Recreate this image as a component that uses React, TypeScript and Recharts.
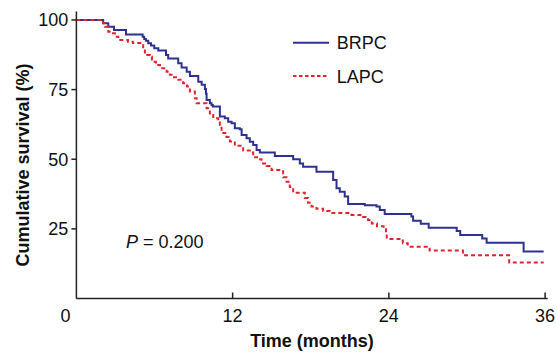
import React from "react";
import { LineChart, Line, XAxis, YAxis, Legend } from "recharts";

// BRPC Kaplan-Meier steps (months, cumulative survival %)
const brpcTime = [0, 2.06, 2.45, 2.89, 3.81, 5.09, 5.21, 5.34, 5.52, 5.73, 5.98, 6.29, 6.88, 7.05, 7.82, 8.08, 8.47, 8.72, 9.36, 9.62, 9.87, 9.95, 10.0, 10.25, 10.38, 10.48, 11.02, 11.4, 11.66, 11.92, 12.17, 12.55, 12.69, 13.07, 13.32, 13.58, 13.84, 14.09, 15.24, 16.65, 17.16, 17.41, 18.44, 19.72, 19.98, 20.23, 20.61, 20.87, 22.15, 23.05, 23.3, 23.68, 25.73, 25.86, 26.45, 27.06, 29.21, 29.48, 31.17, 31.51, 34.35, 35.89];
const brpcSurv = [100, 98.8, 97.6, 96.4, 94.8, 94.0, 93.2, 92.5, 91.6, 90.8, 89.8, 89.0, 87.4, 86.2, 84.5, 82.9, 81.4, 79.9, 77.8, 76.7, 75.2, 73.5, 71.3, 70.1, 69.5, 68.9, 65.3, 64.7, 63.5, 62.9, 61.1, 60.8, 58.7, 57.5, 56.3, 55.1, 53.3, 52.4, 51.2, 50.0, 48.5, 47.3, 45.5, 42.5, 39.6, 38.3, 36.6, 33.9, 33.5, 33.0, 31.8, 30.3, 29.4, 27.9, 26.8, 25.4, 24.2, 22.8, 21.5, 20.0, 16.9, 16.9];

// LAPC Kaplan-Meier steps
const lapcTime = [0, 2.04, 2.19, 2.45, 2.71, 2.96, 3.22, 3.96, 4.34, 5.13, 5.26, 5.65, 5.8, 6.11, 6.42, 6.93, 7.18, 7.41, 7.82, 8.2, 8.49, 8.72, 9.1, 9.23, 10.0, 10.25, 10.51, 10.89, 11.02, 11.15, 11.53, 11.79, 12.17, 12.81, 13.32, 13.58, 13.96, 14.22, 14.6, 14.99, 15.88, 16.14, 16.39, 16.65, 17.54, 17.8, 18.06, 18.44, 18.95, 19.46, 21.13, 22.02, 22.4, 22.69, 23.09, 23.6, 23.78, 23.84, 25.07, 25.45, 27.13, 29.69, 33.24, 35.89];
const lapcSurv = [100, 98.8, 97.6, 95.8, 95.2, 94.0, 92.8, 92.2, 91.7, 89.8, 87.4, 86.8, 85.0, 83.8, 82.7, 81.4, 80.3, 79.4, 78.5, 77.3, 76.1, 74.3, 71.9, 70.1, 68.3, 65.9, 64.7, 63.8, 62.3, 59.4, 58.0, 56.4, 54.8, 53.1, 52.4, 50.7, 50.0, 48.5, 47.6, 46.1, 43.5, 41.9, 40.0, 38.0, 36.1, 34.4, 33.0, 32.2, 31.4, 30.7, 30.0, 29.3, 28.2, 26.9, 25.9, 25.3, 23.5, 21.4, 19.8, 18.6, 17.2, 15.5, 12.9, 12.9];

const xTicks = [0, 12, 24, 36];
const yTicks = [25, 50, 75, 100];
const seriesNames = ["BRPC", "LAPC"];
const pText = "= 0.200";

const brpcData = brpcTime.map((t, i) => ({ t, s: brpcSurv[i] }));
const lapcData = lapcTime.map((t, i) => ({ t, s: lapcSurv[i] }));

const BLUE = "#2e3192";
const RED = "#e0242f";
const FONT = "'Liberation Sans', Arial, sans-serif";

const XTick = (props: any) => {
  const { x, y, payload } = props;
  const v = payload.value;
  return (
    <g>
      {v !== 0 && <line x1={x} y1={y} x2={x} y2={y - 6} stroke="#222" strokeWidth={1.5} />}
      <text x={v === 0 ? x - 11 : x} y={y + 23} textAnchor="middle" fontSize={18} fontFamily={FONT} fill="#111">
        {v}
      </text>
    </g>
  );
};

const LegendBox = () => (
  <svg width={130} height={60} style={{ overflow: "visible" }}>
    <line x1={8} y1={14.7} x2={44} y2={14.7} stroke={BLUE} strokeWidth={2} />
    <text x={51.7} y={21} fontSize={18} fontFamily={FONT} fill="#111">{seriesNames[0]}</text>
    <line x1={8} y1={48} x2={44} y2={48} stroke={RED} strokeWidth={2} strokeDasharray="3.5 2.5" />
    <text x={51.7} y={55} fontSize={18} fontFamily={FONT} fill="#111">{seriesNames[1]}</text>
  </svg>
);

export default function App() {
  return (
    <div style={{ position: "absolute", left: 0, top: 0, width: 557, height: 352, background: "#fff" }}>
      <LineChart width={557} height={352} margin={{ top: 11.6, right: 9.3, left: 0, bottom: 0 }}>
        <XAxis
          type="number"
          dataKey="t"
          domain={[0, 36.2]}
          ticks={xTicks}
          allowDataOverflow
          height={53.5}
          tickSize={0}
          tickMargin={0}
          tickLine={false}
          tick={<XTick />}
          axisLine={{ stroke: "#222", strokeWidth: 1.5 }}
          label={(p: any) => (
            <text x={312} y={346.5} textAnchor="middle" fontSize={18} fontWeight="bold" fontFamily={FONT} fill="#111">
              Time (months)
            </text>
          )}
        />
        <YAxis
          type="number"
          dataKey="s"
          domain={[0, 103]}
          ticks={yTicks}
          allowDataOverflow
          width={76.4}
          tickSize={5}
          tickMargin={3}
          tick={{ fontSize: 18, fontFamily: FONT, fill: "#111" }}
          tickLine={{ stroke: "#222", strokeWidth: 1.5 }}
          axisLine={{ stroke: "#222", strokeWidth: 1.5 }}
          label={(p: any) => (
            <text
              x={23}
              y={165}
              transform="rotate(-90 23 165)"
              textAnchor="middle"
              dominantBaseline="central"
              fontSize={18}
              fontWeight="bold"
              fontFamily={FONT}
              fill="#111"
            >
              Cumulative survival (%)
            </text>
          )}
        />
        <Legend
          verticalAlign="middle"
          align="center"
          layout="horizontal"
          wrapperStyle={{ left: 285, top: 28, width: 130, height: 60 }}
          content={() => <LegendBox />}
        />
        <Line
          data={brpcData}
          dataKey="s"
          name={seriesNames[0]}
          type="stepAfter"
          stroke={BLUE}
          strokeWidth={2}
          dot={false}
          isAnimationActive={false}
        />
        <Line
          data={lapcData}
          dataKey="s"
          name={seriesNames[1]}
          type="stepAfter"
          stroke={RED}
          strokeWidth={2}
          strokeDasharray="4 3"
          dot={false}
          isAnimationActive={false}
        />
      </LineChart>
      <div
        style={{
          position: "absolute",
          left: 126,
          top: 231,
          fontSize: 18,
          fontFamily: FONT,
          color: "#111",
          whiteSpace: "nowrap",
          lineHeight: "22px",
        }}
      >
        <i>P</i> {pText}
      </div>
    </div>
  );
}
